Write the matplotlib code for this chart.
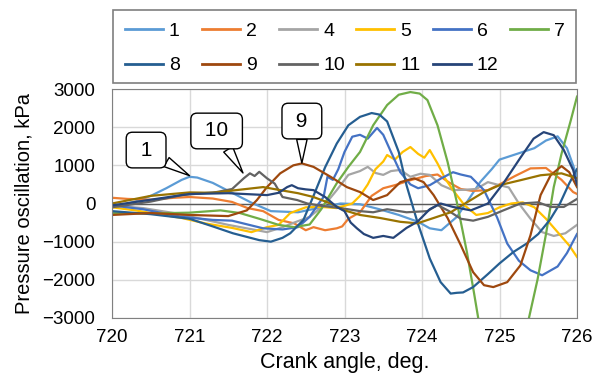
import matplotlib
matplotlib.use("Agg")
import matplotlib.pyplot as plt
from matplotlib.lines import Line2D
from matplotlib.patches import Rectangle

plt.rcParams['font.family'] = ['Liberation Sans', 'DejaVu Sans']

# crank angle (deg) / pressure oscillation (kPa) for each cylinder
x1 = [720.0, 720.3, 720.5, 720.7, 720.9, 721.0, 721.1, 721.3, 721.55, 721.8, 722.05, 722.4, 722.7, 722.95,
      723.2, 723.45, 723.7, 723.95, 724.1, 724.25, 724.45, 724.6, 724.75, 724.9, 725.0, 725.15, 725.3, 725.45,
      725.6, 725.75, 725.87, 725.95, 726.0]
y1 = [-100, 50, 200, 400, 620, 700, 680, 540, 280, 20, -200, -230, -100, 0,
      -20, -150, -300, -480, -650, -700, -350, 100, 560, 900, 1150, 1250, 1350, 1450,
      1650, 1760, 1450, 1000, 700]

x2 = [720.0, 720.2, 720.5, 720.8, 721.0, 721.3, 721.55, 721.75, 721.95, 722.15, 722.35, 722.5, 722.6, 722.75,
      722.9, 722.97, 723.05, 723.2, 723.35, 723.5, 723.65, 723.85, 724.05, 724.2, 724.35, 724.5, 724.65, 724.85,
      725.0, 725.2, 725.4, 725.6, 725.8, 725.95, 726.0]
y2 = [150, 120, 100, 150, 170, 130, 40, -120, -200, -430, -520, -700, -620, -700,
      -650, -600, -400, -230, 200, 400, 480, 610, 720, 760, 550, 380, 330, 350,
      500, 720, 920, 930, 620, 300, 250]

x4 = [720.0, 720.4, 720.8, 721.1, 721.5, 722.0, 722.2, 722.35, 722.55, 722.75, 722.9, 723.05, 723.2, 723.3,
      723.4, 723.5, 723.6, 723.72, 723.85, 723.98, 724.1, 724.25, 724.4, 724.55, 724.7, 724.85, 725.0, 725.12,
      725.25, 725.4, 725.55, 725.7, 725.85, 726.0]
y4 = [-50, -120, -250, -380, -560, -750, -620, -500, -350, -20, 350, 750, 850, 960,
      800, 750, 850, 880, 700, 780, 750, 480, 350, 360, 380, 560, 480, 420,
      0, -400, -750, -850, -780, -560]

x5 = [720.0, 720.3, 720.6, 720.9, 721.2, 721.55, 721.8, 722.0, 722.15, 722.3, 722.5, 722.7, 722.9, 723.1,
      723.2, 723.3, 723.4, 723.5, 723.55, 723.65, 723.75, 723.85, 723.95, 724.03, 724.1, 724.2, 724.3, 724.4,
      724.55, 724.7, 724.85, 725.0, 725.15, 725.3, 725.45, 725.6, 725.75, 725.9, 726.0]
y5 = [-100, -180, -280, -380, -520, -640, -750, -620, -560, -250, -100, -90, -120, 0,
      200, 500, 900, 1100, 1270, 1150, 1350, 1480, 1300, 1200, 1400, 1050, 650, 350,
      -50, -300, -250, -100, 0, 30, -100, -400, -750, -1100, -1400]

x6 = [720.0, 720.4, 720.9, 721.3, 721.55, 721.95, 722.2, 722.4, 722.55, 722.65, 722.73, 722.78, 722.85, 722.92,
      723.0, 723.1, 723.2, 723.3, 723.42, 723.5, 723.6, 723.72, 723.85, 723.95, 724.1, 724.25, 724.4, 724.5,
      724.63, 724.8, 724.97, 725.1, 725.25, 725.4, 725.55, 725.75, 725.87, 726.0]
y6 = [-50, -150, -350, -430, -450, -650, -680, -620, -350, -50, 170, 700, 620, 900,
      1350, 1750, 1800, 1700, 1980, 1800, 1350, 820, 500, 400, 480, 660, 820, 760,
      700, 350, -370, -1050, -1500, -1750, -1880, -1650, -1300, -800]

x7 = [720.0, 720.5, 721.0, 721.4, 721.65, 721.9, 722.15, 722.35, 722.55, 722.7, 722.9, 723.05, 723.2, 723.37,
      723.55, 723.7, 723.85, 723.97, 724.07, 724.2, 724.33, 724.45, 724.58, 724.67, 724.75, 725.05, 725.38,
      725.49, 725.6, 725.7, 725.8, 725.92, 726.0]
y7 = [-250, -260, -240, -180, -250, -400, -560, -620, -550, -150, 530, 960, 1350, 2050,
      2580, 2850, 2920, 2880, 2710, 2050, 1090, 30, -1280, -2330, -3300, -4300, -3000,
      -2000, -800, 430, 1300, 2180, 2800]

x8 = [720.0, 720.5, 721.0, 721.3, 721.56, 721.9, 722.05, 722.2, 722.3, 722.47, 722.6, 722.75, 722.9, 723.05,
      723.2, 723.35, 723.45, 723.55, 723.7, 723.8, 723.94, 724.1, 724.24, 724.37, 724.45, 724.53, 724.66, 724.85,
      725.0, 725.18, 725.35, 725.5, 725.65, 725.78, 725.9, 726.0]
y8 = [-200, -280, -400, -600, -780, -960, -1000, -900, -780, -430, 200, 950, 1570, 2050,
      2270, 2370, 2330, 2150, 1350, 480, -480, -1440, -2060, -2360, -2340, -2330, -2190, -1850,
      -1570, -1270, -1050, -800, -430, 0, 530, 900]

x9 = [720.0, 720.5, 721.0, 721.5, 721.74, 721.87, 722.0, 722.17, 722.34, 722.45, 722.6, 722.82, 723.03, 723.2,
      723.37, 723.55, 723.72, 723.9, 724.02, 724.15, 724.33, 724.5, 724.66, 724.8, 724.92, 725.1, 725.27, 725.4,
      725.53, 725.66, 725.8, 725.9, 726.0]
y9 = [-300, -250, -300, -330, -180, 90, 430, 790, 1000, 1050, 960, 700, 430, 300,
      90, 220, 560, 660, 560, 220, -380, -1090, -1800, -2140, -2190, -2060, -1620, -830,
      220, 740, 980, 820, 430]

x10 = [720.0, 720.5, 720.9, 721.35, 721.55, 721.7, 721.78, 721.84, 721.9, 722.0, 722.1, 722.2, 722.39, 722.52,
       722.7, 722.95, 723.2, 723.37, 723.55, 723.8, 724.07, 724.2, 724.35, 724.5, 724.66, 724.85, 725.05, 725.27,
       725.5, 725.66, 725.83, 726.0]
y10 = [-100, 50, 220, 300, 380, 660, 790, 720, 830, 660, 520, 170, 90, 0,
       -60, -120, -200, -230, -150, -230, -200, -40, -200, -400, -450, -350, -180, 0,
       30, -90, -90, 120]

x11 = [720.0, 720.5, 721.0, 721.3, 721.6, 721.95, 722.2, 722.4, 722.6, 722.82, 723.0, 723.2, 723.46, 723.72,
       723.94, 724.15, 724.37, 724.58, 724.8, 725.0, 725.27, 725.53, 725.8, 726.0]
y11 = [0, 200, 290, 280, 350, 430, 340, 270, 170, 0, -180, -300, -380, -480,
       -520, -380, -230, 30, 300, 480, 610, 740, 790, 660]

x12 = [720.0, 720.5, 721.0, 721.5, 722.0, 722.15, 722.26, 722.32, 722.4, 722.5, 722.6, 722.75, 722.9, 723.0,
       723.08, 723.16, 723.25, 723.37, 723.5, 723.63, 723.8, 723.94, 724.1, 724.24, 724.4, 724.63, 724.85, 725.05,
       725.27, 725.44, 725.57, 725.7, 725.83, 725.95, 726.0]
y12 = [-50, 100, 250, 270, 220, 280, 430, 480, 400, 370, 350, 170, -90, -200,
       -500, -650, -800, -900, -850, -900, -640, -480, -150, 0, -90, -180, 0, 530,
       1200, 1700, 1870, 1790, 1400, 880, 500]

labels = ['1', '2', '4', '5', '6', '7', '8', '9', '10', '11', '12']
xs = [x1, x2, x4, x5, x6, x7, x8, x9, x10, x11, x12]
ys = [y1, y2, y4, y5, y6, y7, y8, y9, y10, y11, y12]
colors = ['#5B9BD5', '#ED7D31', '#A5A5A5', '#FFC000', '#4472C4', '#70AD47',
          '#255E91', '#9E480E', '#636363', '#997300', '#264478']

W, H = 599, 374
fig = plt.figure(figsize=(W / 100, H / 100), dpi=100)
ax = fig.add_axes([112 / W, 1 - 318 / H, 465 / W, 229 / H])

for lab, x, y, c in zip(labels, xs, ys, colors):
    ax.plot(x, y, color=c, lw=1.6, label=lab)

ax.axhline(0, color='#595959', lw=1.0, zorder=1)
ax.set_xlim(720, 726)
ax.set_ylim(-3000, 3000)
ax.set_xticks(range(720, 727))
ax.set_yticks(range(-3000, 3001, 1000))
ax.grid(True, color='#d9d9d9', lw=1.0)
ax.set_axisbelow(True)
ax.tick_params(length=0, labelsize=13.5)
ax.tick_params(axis='x', pad=8)
ax.tick_params(axis='y', pad=12)
for sp in ax.spines.values():
    sp.set_color('#808080')
ax.set_xlabel('Crank angle, deg.', fontsize=15.5, labelpad=4)
ax.set_ylabel('Pressure oscillation, kPa', fontsize=14.5, labelpad=6)

# callouts naming the cylinders
callouts = [(' 1 ', (721.0, 730), (720.44, 1400)),
            (' 10 ', (721.69, 800), (721.35, 1900)),
            (' 9 ', (722.45, 1060), (722.45, 2160))]
for txt, tip, pos in callouts:
    ax.annotate(txt, xy=tip, xytext=pos, ha='center', va='center', fontsize=15,
                bbox=dict(boxstyle='round,pad=0.4,rounding_size=0.3', fc='white', ec='black', lw=1),
                arrowprops=dict(arrowstyle='wedge,tail_width=0.5', fc='white', ec='black', lw=1,
                                shrinkA=0, shrinkB=0))

# legend: fixed-pitch grid, 6 entries per row
fig.patches.append(Rectangle((113 / W, 1 - 83 / H), 463 / W, 73 / H, transform=fig.transFigure,
                             fill=False, ec='#7f7f7f', lw=1.2))
for i, (lab, c) in enumerate(zip(labels, colors)):
    row, col = divmod(i, 6)
    x0 = (125 + 77 * col) / W
    yc = 1 - (29 + 35 * row) / H
    fig.add_artist(Line2D([x0, x0 + 38 / W], [yc, yc], color=c, lw=2, transform=fig.transFigure))
    fig.text(x0 + 44 / W, yc, lab, fontsize=14, ha='left', va='center_baseline')

fig.savefig('out.png', dpi=100)
